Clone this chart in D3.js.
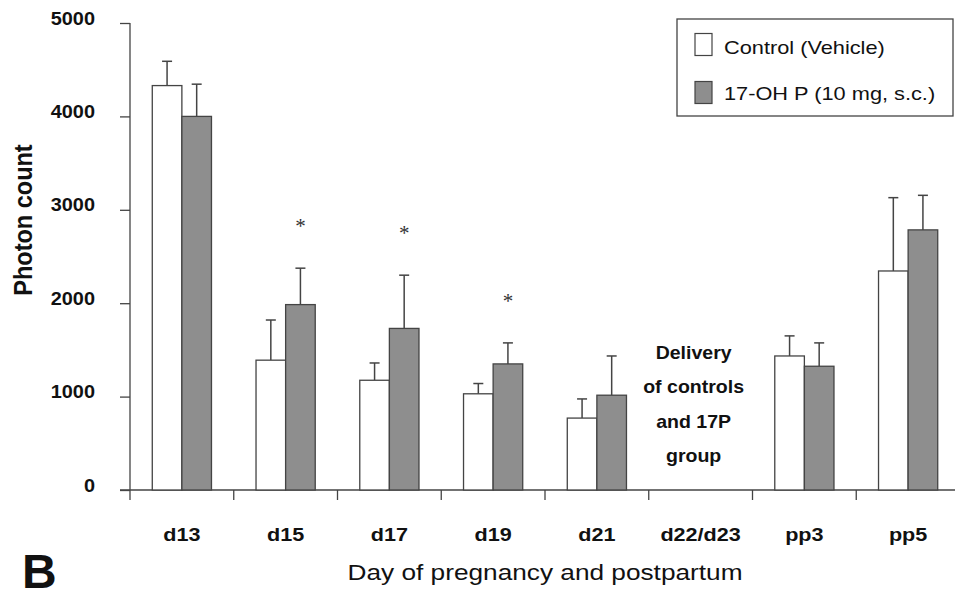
<!DOCTYPE html>
<html>
<head>
<meta charset="utf-8">
<script src="https://cdn.jsdelivr.net/npm/d3@7"></script>
<style>
  html, body { margin: 0; padding: 0; background: #fff; }
  svg { display: block; }
</style>
</head>
<body>
<svg id="chart" width="955" height="594"></svg>
<script>
// Day labels and measured photon counts (mean and error) per group
const days = ["d13", "d15", "d17", "d19", "d21", "d22/d23", "pp3", "pp5"];
const controlMean = [4330, 1390, 1175, 1030, 770, null, 1435, 2345];
const controlErr  = [260, 430, 185, 110, 205, null, 215, 785];
const treatedMean = [4000, 1985, 1730, 1350, 1015, null, 1325, 2785];
const treatedErr  = [345, 390, 570, 225, 420, null, 250, 370];
const significant = ["d15", "d17", "d19"];
const yTicks = [0, 1000, 2000, 3000, 4000, 5000];
const seriesNames = ["Control (Vehicle)", "17-OH P (10 mg, s.c.)"];
const deliveryNote = ["Delivery", "of controls", "and 17P", "group"];

const svg = d3.select("#chart");
const sans = "Arial, 'Liberation Sans', sans-serif";
const serif = "'Times New Roman', 'Liberation Serif', serif";
const stroke = "#444";
const ink = "#111";
const grey = "#8e8e8e";

// Text drawn at (px, py) and widened horizontally by sx
function label(parent, px, py, str, size, opts = {}) {
  return parent.append("text")
    .attr("transform", `translate(${px},${py}) scale(${opts.sx || 1},1)`)
    .attr("text-anchor", opts.anchor || "start")
    .attr("font-family", opts.family || sans)
    .attr("font-weight", opts.bold ? "bold" : "normal")
    .attr("font-size", size)
    .attr("fill", opts.fill || ink)
    .text(str);
}

const x = d3.scaleBand().domain(days).range([130, 960]).paddingInner(0).paddingOuter(0);
const y = d3.scaleLinear().domain([0, 5000]).range([490, 23]);
const barW = 29.6;

// Y axis (line and ticks from d3, labels placed to the left)
const yAxis = svg.append("g").attr("transform", "translate(130,0)")
  .call(d3.axisLeft(y).tickValues(yTicks).tickSize(10).tickFormat(""));
yAxis.select(".domain").attr("stroke", stroke).attr("stroke-width", 1.3).attr("d", `M0,${y(5000)}V${y(0)}`);
yAxis.selectAll(".tick line").attr("stroke", stroke).attr("stroke-width", 1.3);
const yLabels = svg.append("g");
yTicks.forEach(t => label(yLabels, 95, y(t) + 1.5, d3.format("d")(t), 18.6,
  { bold: true, anchor: "end", sx: 1.07 }));

// X axis with ticks on category boundaries
svg.append("line").attr("x1", 120).attr("x2", 960).attr("y1", y(0)).attr("y2", y(0))
  .attr("stroke", stroke).attr("stroke-width", 1.3);
svg.append("g").selectAll("line").data(days).join("line")
  .attr("x1", d => x(d)).attr("x2", d => x(d))
  .attr("y1", y(0)).attr("y2", y(0) + 10)
  .attr("stroke", stroke).attr("stroke-width", 1.3);
const xLabels = svg.append("g");
days.forEach(d => label(xLabels, x(d) + x.bandwidth() / 2, 540.5, d, 18,
  { bold: true, anchor: "middle", sx: 1.2 }));

// Bars with error bars
function drawSeries(means, errs, offset, fill) {
  const g = svg.append("g");
  const rows = days.map((d, i) => ({ d, m: means[i], e: errs[i] })).filter(r => r.m != null);
  const cx = r => x(r.d) + x.bandwidth() / 2 + offset;
  g.selectAll("line.err").data(rows).join("line").attr("class", "err")
    .attr("x1", cx).attr("x2", cx).attr("y1", r => y(r.m)).attr("y2", r => y(r.m + r.e))
    .attr("stroke", stroke).attr("stroke-width", 1.5);
  g.selectAll("line.cap").data(rows).join("line").attr("class", "cap")
    .attr("x1", r => cx(r) - 5).attr("x2", r => cx(r) + 5)
    .attr("y1", r => y(r.m + r.e)).attr("y2", r => y(r.m + r.e))
    .attr("stroke", stroke).attr("stroke-width", 1.5);
  g.selectAll("rect").data(rows).join("rect")
    .attr("x", r => cx(r) - barW / 2).attr("width", barW)
    .attr("y", r => y(r.m)).attr("height", r => y(0) - y(r.m))
    .attr("fill", fill).attr("stroke", stroke).attr("stroke-width", 1.3);
}
drawSeries(controlMean, controlErr, -barW / 2, "#fff");
drawSeries(treatedMean, treatedErr, barW / 2, grey);

// Significance markers above the treated bars
svg.append("g").selectAll("text").data(significant).join("text")
  .attr("x", d => x(d) + x.bandwidth() / 2 + barW / 2)
  .attr("y", d => { const i = days.indexOf(d); return y(treatedMean[i] + treatedErr[i]) - 35; })
  .attr("text-anchor", "middle").attr("font-family", serif).attr("font-size", 21)
  .attr("fill", "#333").text("*");

// Note for the delivery gap
const note = svg.append("g");
const cxNote = x("d22/d23") + x.bandwidth() / 2 - 7;
deliveryNote.forEach((s, i) => label(note, cxNote, 358.5 + i * 34.6, s, 18.6,
  { bold: true, anchor: "middle", sx: 1.05 }));

// Legend
const lg = svg.append("g");
lg.append("rect").attr("x", 677).attr("y", 19).attr("width", 276).attr("height", 97)
  .attr("fill", "#fff").attr("stroke", stroke).attr("stroke-width", 1.3);
[["#fff", 44.5, 53.5], [grey, 92.5, 100]].forEach(([f, cy, base], i) => {
  lg.append("rect").attr("x", 695).attr("y", cy - 11).attr("width", 17).attr("height", 22)
    .attr("fill", f).attr("stroke", stroke).attr("stroke-width", 1.2);
  label(lg, 724, base, seriesNames[i], 18.6, { sx: 1.17 });
});

// Axis titles and panel letter
svg.append("text").attr("transform", "translate(32,220) rotate(-90) scale(1,1.13)")
  .attr("text-anchor", "middle").attr("font-family", sans).attr("font-weight", "bold")
  .attr("font-size", 23.5).attr("fill", ink).text("Photon count");
label(svg, 545, 580, "Day of pregnancy and postpartum", 21.5, { anchor: "middle", sx: 1.22 });
label(svg, 22, 588, "B", 48, { bold: true });
</script>
</body>
</html>
